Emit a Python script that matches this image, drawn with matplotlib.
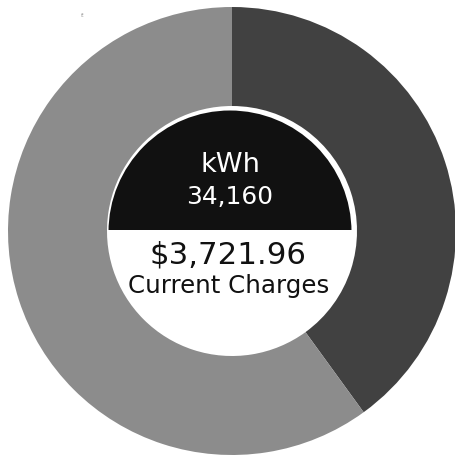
import matplotlib
matplotlib.use("Agg")
import matplotlib.pyplot as plt
from matplotlib.patches import Circle, Rectangle

# ---- data ----
segments = ["Segment A", "Segment B"]
shares = [40, 60]
seg_colors = ["#414141", "#8c8c8c"]
kwh_label = "kWh"
kwh_value = "34,160"
charges_value = "$3,721.96"
charges_label = "Current Charges"

W, H = 456, 455
fig = plt.figure(figsize=(W / 100, H / 100), dpi=100)
ax = fig.add_axes([0, 0, 1, 1])

cx, cy = 232, H - 231
R_out, R_hole, R_black = 224, 125, 121.5

ax.pie(shares, colors=seg_colors, startangle=90, counterclock=False,
       center=(cx, cy), radius=R_out, frame=True,
       wedgeprops=dict(width=R_out - R_hole, linewidth=0))
ax.set_xlim(0, W)
ax.set_ylim(0, H)
ax.set_aspect("equal")
ax.axis("off")

# black upper segment inside hole
cut_y = H - 230
blk = Circle((cx - 2, cy - 1), R_black, facecolor="#111111", edgecolor="none", zorder=3)
ax.add_patch(blk)
clip = Rectangle((0, cut_y), W, H, transform=ax.transData)
blk.set_clip_path(clip)

fam = ["DejaVu Sans"]
renderer = fig.canvas.get_renderer()


def fitted(x, y_px, s, color, width_px, size0):
    t = ax.text(x, H - y_px, s, color=color, fontsize=size0, ha="center",
                va="baseline", family=fam, zorder=4)
    for _ in range(3):
        w = t.get_window_extent(renderer).width
        t.set_fontsize(t.get_fontsize() * width_px / w)
    return t


fitted(230, 172, kwh_label, "white", 60, 16)
fitted(229.5, 204, kwh_value, "white", 87, 16)
fitted(228.5, 263, charges_value, "#111111", 157, 24)
fitted(229, 293, charges_label, "#111111", 202, 16)
ax.text(83, H - 17, "f:", color="#999999", fontsize=4.5, ha="center",
        va="baseline", family=fam)

fig.savefig("out.png", dpi=100, facecolor="white")
